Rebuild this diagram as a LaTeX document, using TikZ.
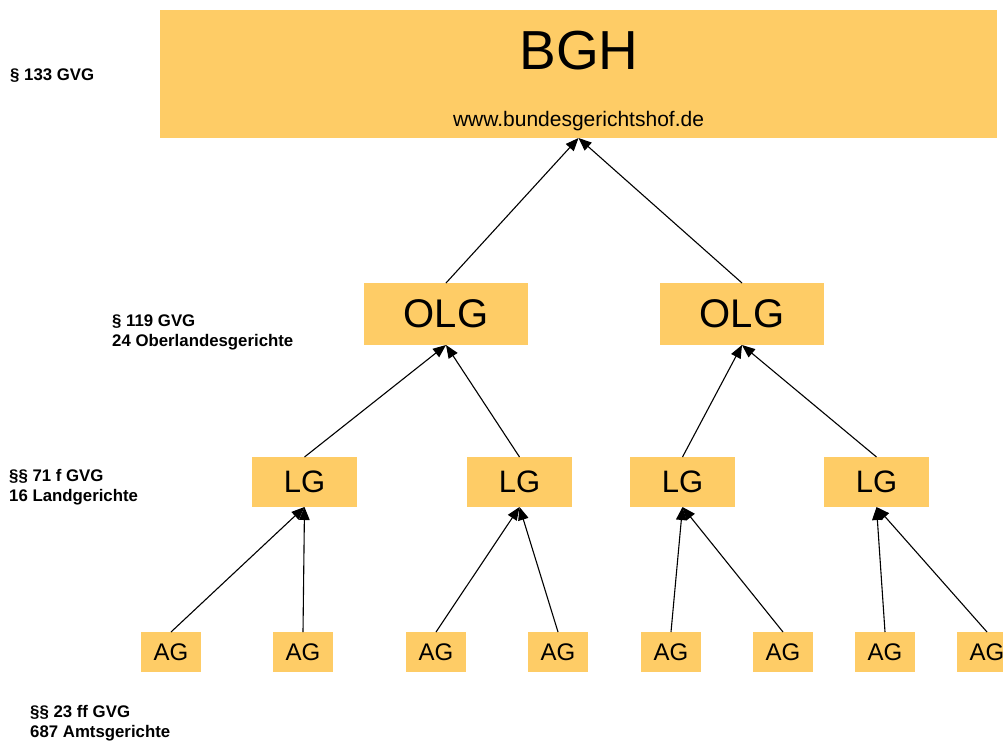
\documentclass[tikz,border=0pt]{standalone}
\usepackage{fontspec}
\setmainfont{Liberation Sans}
\usetikzlibrary{arrows.meta}
\definecolor{boxfill}{RGB}{254,204,102}
\begin{document}
\begin{tikzpicture}[x=1pt,y=-1pt,
 court/.style={fill=boxfill,inner sep=0pt,outer sep=0pt},
 olg/.style={court,minimum width=164pt,minimum height=62pt,font=\fontsize{40}{40}\selectfont},
 lg/.style={court,minimum width=105pt,minimum height=50pt,font=\fontsize{31}{31}\selectfont},
 ag/.style={court,minimum width=60pt,minimum height=40pt,font=\fontsize{24}{24}\selectfont},
 lbl/.style={anchor=base west,inner sep=0pt,align=left,font=\bfseries\fontsize{16.8}{20}\selectfont},
 link/.style={-{Triangle[length=13pt,width=10.5pt]},line width=1.1pt}]
\useasboundingbox (0,0) rectangle (1003,740);
% BGH
\node[court,minimum width=837pt,minimum height=128pt] (bgh) at (578.5,74) {};
\node[anchor=base,inner sep=0pt,font=\fontsize{55}{55}\selectfont] (bghtitle) at (579,69) {BGH};
\node[anchor=base,inner sep=0pt,font=\fontsize{21}{21}\selectfont] (bghurl) at (578.5,126) {www.bundesgerichtshof.de};
% OLG
\node[olg] (olg1) at (446,314) {OLG};
\node[olg] (olg2) at (742,314) {OLG};
% LG
\node[lg] (lg1) at (304.5,482) {LG};
\node[lg] (lg2) at (519.5,482) {LG};
\node[lg] (lg3) at (682.5,482) {LG};
\node[lg] (lg4) at (876.5,482) {LG};
% AG
\node[ag] (ag1) at (171,652) {AG};
\node[ag] (ag2) at (303,652) {AG};
\node[ag] (ag3) at (436,652) {AG};
\node[ag] (ag4) at (558,652) {AG};
\node[ag] (ag5) at (671,652) {AG};
\node[ag] (ag6) at (783,652) {AG};
\node[ag] (ag7) at (885,652) {AG};
\node[ag] (ag8) at (987,652) {AG};
% labels (base anchor = baseline of last line)
\node[lbl] (l1) at (10,80) {§ 133 GVG};
\node[lbl] (l2) at (112,346) {§ 119 GVG\\24 Oberlandesgerichte};
\node[lbl] (l3) at (9,501) {§§ 71 f GVG\\16 Landgerichte};
\node[lbl] (l4) at (30,737) {§§ 23 ff GVG\\687 Amtsgerichte};
% connectors
\draw[link] (olg1.north) -- (bgh.south);
\draw[link] (olg2.north) -- (bgh.south);
\draw[link] (lg1.north) -- (olg1.south);
\draw[link] (lg2.north) -- (olg1.south);
\draw[link] (lg3.north) -- (olg2.south);
\draw[link] (lg4.north) -- (olg2.south);
\draw[link] (ag1.north) -- (lg1.south);
\draw[link] (ag2.north) -- (lg1.south);
\draw[link] (ag3.north) -- (lg2.south);
\draw[link] (ag4.north) -- (lg2.south);
\draw[link] (ag5.north) -- (lg3.south);
\draw[link] (ag6.north) -- (lg3.south);
\draw[link] (ag7.north) -- (lg4.south);
\draw[link] (ag8.north) -- (lg4.south);
\end{tikzpicture}
\end{document}
